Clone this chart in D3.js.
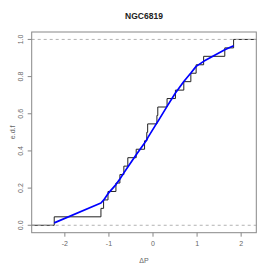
<!DOCTYPE html>
<html>
<head>
<meta charset="utf-8">
<script src="https://cdn.jsdelivr.net/npm/d3@7"></script>
<style>
  html, body { margin: 0; padding: 0; background: #fff; }
  text { font-family: "Liberation Sans", Arial, sans-serif; }
</style>
</head>
<body>
<div id="chart"></div>
<script>
// data --------------------------------------------------------------------------------
const title = 'NGC6819';
const xLabel = '\u0394P';
const yLabel = 'e.d.f';
const deltaP = [-2.23, -1.17, -1.11, -1.01, -0.83, -0.74, -0.65, -0.56, -0.37, -0.18, -0.13,
  -0.11, 0.10, 0.12, 0.33, 0.52, 0.71, 0.87, 0.99, 1.16, 1.64, 1.84];
const fitted = [0.013, 0.120, 0.135, 0.170, 0.219, 0.249, 0.282, 0.314, 0.380, 0.443, 0.460,
  0.470, 0.551, 0.558, 0.640, 0.712, 0.774, 0.819, 0.855, 0.882, 0.945, 0.966];
const xTicks = [-2, -1, 0, 1, 2];
const yTicks = [0, 0.2, 0.4, 0.6, 0.8, 1.0];
const xDomain = [-2.741, 2.355];
const yDomain = [-0.04, 1.04];

// svg ------------------------------------------------------------------------------------
const width = 273;
const height = 273;
const margin = { top: 32, bottom: 40.3, left: 31.7, right: 16.7 };
const svg = d3.select('#chart').append('svg')
  .attr('width', width)
  .attr('height', height);

const xScale = d3.scaleLinear()
  .domain(xDomain)
  .range([margin.left, width - margin.right]);
const yScale = d3.scaleLinear()
  .domain(yDomain)
  .range([height - margin.bottom, margin.top]);

svg.append('clipPath')
  .attr('id', 'plot-clip')
  .append('rect')
  .attr('x', margin.left)
  .attr('y', margin.top)
  .attr('width', width - margin.left - margin.right)
  .attr('height', height - margin.top - margin.bottom);

// ecdf step line ------------------------------------------------------------------------
const n = deltaP.length;
const stepData = [[xDomain[0] - 1, 0]]
  .concat(deltaP.map((d, i) => [d, (i + 1) / n]))
  .concat([[xDomain[1] + 1, 1]]);
const stepLine = d3.line()
  .x(d => xScale(d[0]))
  .y(d => yScale(d[1]))
  .curve(d3.curveStepAfter);
svg.append('path')
  .datum(stepData)
  .attr('clip-path', 'url(#plot-clip)')
  .attr('d', stepLine)
  .attr('fill', 'none')
  .attr('stroke', '#222')
  .attr('stroke-width', 1);

// dashed lines at 0 and 1 --------------------------------------------------------------
svg.selectAll('.h-line')
  .data([0, 1])
  .enter()
  .append('line')
  .attr('class', 'h-line')
  .attr('x1', margin.left)
  .attr('x2', width - margin.right)
  .attr('y1', d => yScale(d))
  .attr('y2', d => yScale(d))
  .attr('stroke', '#b3b3b3')
  .attr('stroke-width', 1)
  .attr('stroke-dasharray', '3,3');

// fitted cdf (blue) ---------------------------------------------------------------------
const fitLine = d3.line()
  .x((d, i) => xScale(deltaP[i]))
  .y(d => yScale(d));
svg.append('path')
  .datum(fitted)
  .attr('d', fitLine)
  .attr('fill', 'none')
  .attr('stroke', '#0000ff')
  .attr('stroke-width', 1.7)
  .attr('stroke-linejoin', 'round');

// box ------------------------------------------------------------------------------------
svg.append('rect')
  .attr('x', margin.left)
  .attr('y', margin.top)
  .attr('width', width - margin.left - margin.right)
  .attr('height', height - margin.top - margin.bottom)
  .attr('fill', 'none')
  .attr('stroke', '#888')
  .attr('stroke-width', 1);

// axes -----------------------------------------------------------------------------------
const xAxis = svg.append('g')
  .attr('transform', 'translate(0,' + (height - margin.bottom) + ')')
  .call(d3.axisBottom(xScale).tickValues(xTicks).tickSize(4).tickPadding(4)
    .tickFormat(d => d < 0 ? '-' + Math.abs(d) : d));
const yAxis = svg.append('g')
  .attr('transform', 'translate(' + margin.left + ',0)')
  .call(d3.axisLeft(yScale).tickValues(yTicks).tickSize(4).tickFormat(d3.format('.1f')));
[xAxis, yAxis].forEach(ax => {
  ax.select('.domain').remove();
  ax.selectAll('line').attr('stroke', '#888');
  ax.selectAll('text').attr('fill', '#666').attr('font-size', '7px')
    .style('font-family', '"Liberation Sans", Arial, sans-serif');
});
yAxis.selectAll('text')
  .attr('x', null)
  .attr('dy', null)
  .attr('text-anchor', 'middle')
  .attr('transform', d => 'translate(' + (22.5 - margin.left) + ',' + yScale(d) + ') rotate(-90)')
  .attr('y', 0);
yAxis.selectAll('.tick').attr('transform', 'translate(0,0)');
yAxis.selectAll('.tick line')
  .attr('y1', d => yScale(d))
  .attr('y2', d => yScale(d));

// labels ---------------------------------------------------------------------------------
svg.append('text')
  .attr('x', (margin.left + width - margin.right) / 2)
  .attr('y', 19)
  .attr('text-anchor', 'middle')
  .attr('font-size', '8.5px')
  .attr('font-weight', 'bold')
  .attr('fill', '#222')
  .text(title);
svg.append('text')
  .attr('x', (margin.left + width - margin.right) / 2)
  .attr('y', 263)
  .attr('text-anchor', 'middle')
  .attr('font-size', '7px')
  .attr('fill', '#666')
  .text(xLabel);
svg.append('text')
  .attr('transform', 'translate(15,' + ((margin.top + height - margin.bottom) / 2) + ') rotate(-90)')
  .attr('text-anchor', 'middle')
  .attr('font-size', '7px')
  .attr('fill', '#666')
  .text(yLabel);
</script>
</body>
</html>
